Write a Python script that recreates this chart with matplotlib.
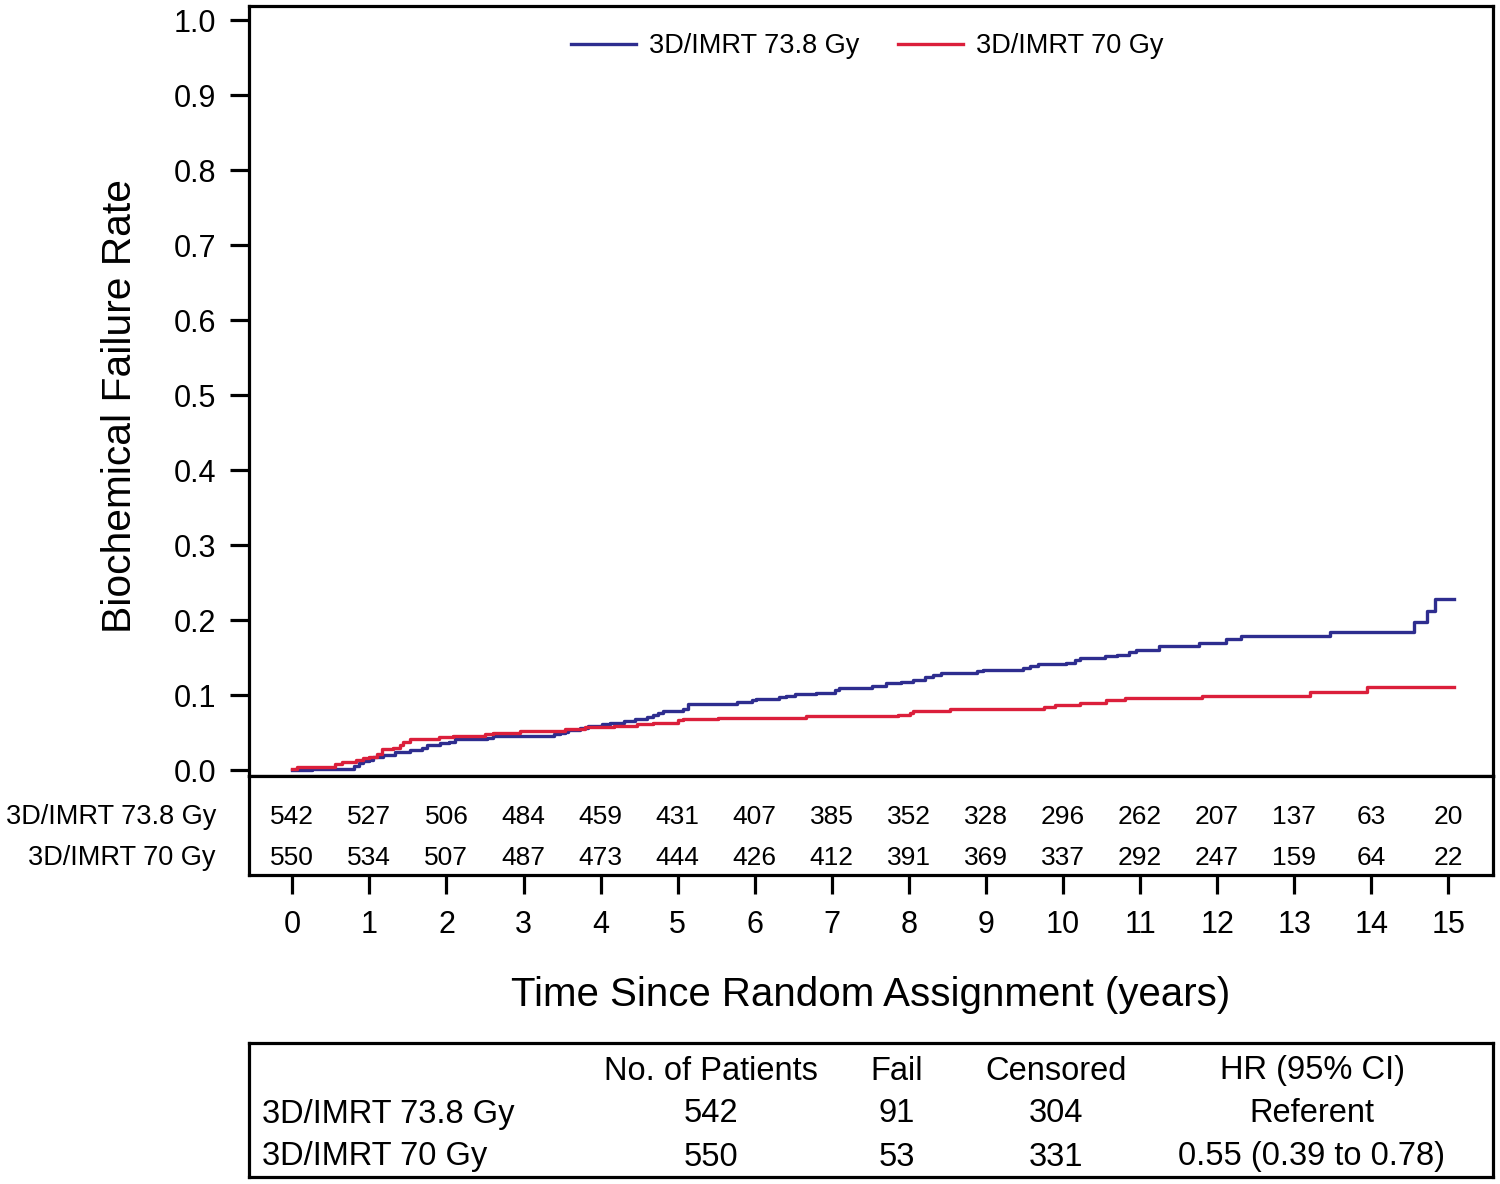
import matplotlib
matplotlib.use("Agg")
import matplotlib.pyplot as plt
from matplotlib.transforms import blended_transform_factory

plt.rcParams['font.family'] = ['Liberation Sans', 'DejaVu Sans']

# ---------------- data ----------------
series_names = ["3D/IMRT 73.8 Gy", "3D/IMRT 70 Gy"]

blue_t = [0, 0.25, 0.62, 0.8, 0.86, 0.92, 0.99, 1.05, 1.18, 1.33, 1.53, 1.68, 1.75, 1.92,
          2.03, 2.11, 2.52, 2.61, 3.39, 3.47, 3.54, 3.58, 3.73, 3.84, 4.02, 4.12, 4.3, 4.45,
          4.6, 4.68, 4.75, 4.81, 5.07, 5.14, 5.77, 5.96, 6.02, 6.31, 6.41, 6.52, 6.8, 7.04,
          7.1, 7.52, 7.71, 7.9, 8.06, 8.21, 8.31, 8.42, 8.89, 8.96, 9.48, 9.57, 9.68, 10.04,
          10.15, 10.22, 10.55, 10.7, 10.86, 10.95, 11.25, 11.77, 12.12, 12.31, 13.46, 14.55,
          14.73, 14.83, 15.08]
blue_f = [0.0, 0.001, 0.002, 0.005, 0.009, 0.012, 0.014, 0.017, 0.020, 0.024, 0.027, 0.030,
          0.033, 0.036, 0.038, 0.041, 0.043, 0.045, 0.048, 0.049, 0.051, 0.054, 0.056, 0.059,
          0.061, 0.063, 0.066, 0.068, 0.071, 0.073, 0.076, 0.079, 0.082, 0.088, 0.091, 0.093,
          0.095, 0.097, 0.099, 0.101, 0.103, 0.107, 0.110, 0.112, 0.116, 0.118, 0.120, 0.124,
          0.127, 0.130, 0.132, 0.134, 0.136, 0.139, 0.141, 0.143, 0.147, 0.150, 0.152, 0.154,
          0.157, 0.160, 0.165, 0.170, 0.175, 0.179, 0.184, 0.198, 0.212, 0.228, 0.228]

red_t = [0, 0.06, 0.56, 0.64, 0.82, 0.92, 0.99, 1.1, 1.16, 1.31, 1.4, 1.44, 1.53, 1.9, 2.09,
         2.5, 2.61, 2.96, 3.54, 3.8, 4.17, 4.47, 4.68, 5.01, 5.07, 5.53, 6.67, 7.86, 8.01,
         8.06, 8.53, 9.76, 9.9, 10.22, 10.56, 10.8, 11.81, 13.2, 13.95, 15.08]
red_f = [0.002, 0.004, 0.008, 0.011, 0.013, 0.016, 0.018, 0.022, 0.028, 0.030, 0.033, 0.037,
         0.041, 0.044, 0.046, 0.048, 0.050, 0.052, 0.055, 0.057, 0.059, 0.061, 0.063, 0.067,
         0.068, 0.070, 0.072, 0.074, 0.076, 0.079, 0.081, 0.084, 0.087, 0.089, 0.093, 0.0965,
         0.099, 0.1035, 0.111, 0.111]

risk_times = list(range(0, 16))
risk_blue = [542, 527, 506, 484, 459, 431, 407, 385, 352, 328, 296, 262, 207, 137, 63, 20]
risk_red = [550, 534, 507, 487, 473, 444, 426, 412, 391, 369, 337, 292, 247, 159, 64, 22]

y_ticks = [0.0, 0.1, 0.2, 0.3, 0.4, 0.5, 0.6, 0.7, 0.8, 0.9, 1.0]

table_header = ["No. of Patients", "Fail", "Censored", "HR (95% CI)"]
table_rows = ["3D/IMRT 73.8 Gy", "3D/IMRT 70 Gy"]
table_patients = ["542", "550"]
table_fail = ["91", "53"]
table_censored = ["304", "331"]
table_hr = ["Referent", "0.55 (0.39 to 0.78)"]

# ---------------- style ----------------
BLUE = '#2e2d8f'
RED = '#db1f3b'
W, H = 1500, 1184
LW_SPINE = 2.3

fig = plt.figure(figsize=(W / 100, H / 100), dpi=100)

def px_axes(x0, y0, x1, y1):
    return fig.add_axes([x0 / W, 1 - y1 / H, (x1 - x0) / W, (y1 - y0) / H])

xlim = (-0.562, 15.58)

# main axes
ax = px_axes(249, 6, 1493, 776)
ax.step(blue_t, blue_f, where='post', color=BLUE, lw=2.4, label=series_names[0])
ax.step(red_t, red_f, where='post', color=RED, lw=2.4, label=series_names[1])
ax.set_xlim(*xlim)
ax.set_ylim(-0.008, 1.0187)
ax.set_yticks(y_ticks)
ax.set_yticklabels([f"{v:.1f}" for v in y_ticks])
ax.set_xticks([])
ax.tick_params(axis='y', direction='out', length=13.5, width=LW_SPINE, labelsize=22, pad=10)
for s in ax.spines.values():
    s.set_linewidth(LW_SPINE)
leg = ax.legend(loc='upper center', ncol=2, frameon=False, fontsize=19.5,
                handlelength=2.4, handletextpad=0.5, columnspacing=1.4,
                bbox_to_anchor=(0.497, 1.0), borderaxespad=0.6)

# risk table axes
axr = px_axes(249, 776, 1493, 875)
axr.set_xlim(*xlim)
axr.set_ylim(0, 1)
axr.set_yticks([])
axr.set_xticks(risk_times)
axr.set_xticklabels([str(t) for t in risk_times])
axr.tick_params(axis='x', direction='out', length=13.5, width=LW_SPINE, labelsize=22, pad=12)
for s in axr.spines.values():
    s.set_linewidth(LW_SPINE)
row_y = [0.59, 0.17]
for counts, yy in zip([risk_blue, risk_red], row_y):
    for t, c in zip(risk_times, counts):
        axr.text(t, yy, str(c), ha='center', va='center', fontsize=19)
tr = blended_transform_factory(fig.transFigure, axr.transAxes)
for name, yy in zip(series_names, row_y):
    axr.text(216 / W, yy, name, ha='right', va='center', fontsize=19.5, transform=tr)

# axis labels
fig.text(120 / W, 1 - 406 / H, "Biochemical Failure Rate", rotation=90,
         ha='center', va='center', fontsize=29.3)
fig.text(871 / W, 1 - 995 / H, "Time Since Random Assignment (years)",
         ha='center', va='center', fontsize=29)

# summary table
axt = px_axes(249, 1043, 1493, 1177)
axt.set_xlim(0, 1)
axt.set_ylim(0, 1)
axt.set_xticks([])
axt.set_yticks([])
for s in axt.spines.values():
    s.set_linewidth(LW_SPINE)
col_x = [(711 - 249) / 1244, (897 - 249) / 1244, (1056 - 249) / 1244, (1312 - 249) / 1244]
hdr_y = (1177 - 1071) / 134
rows_y = [(1177 - 1114) / 134, (1177 - 1157) / 134]
fs_t = 23.5
for cx, h in zip(col_x, table_header):
    axt.text(cx, hdr_y, h, ha='center', va='center', fontsize=fs_t)
for i, ry in enumerate(rows_y):
    axt.text((262 - 249) / 1244, ry, table_rows[i], ha='left', va='center', fontsize=fs_t)
    for cx, val in zip(col_x, [table_patients[i], table_fail[i], table_censored[i], table_hr[i]]):
        axt.text(cx, ry, val, ha='center', va='center', fontsize=fs_t)

fig.savefig("out.png", dpi=100)
